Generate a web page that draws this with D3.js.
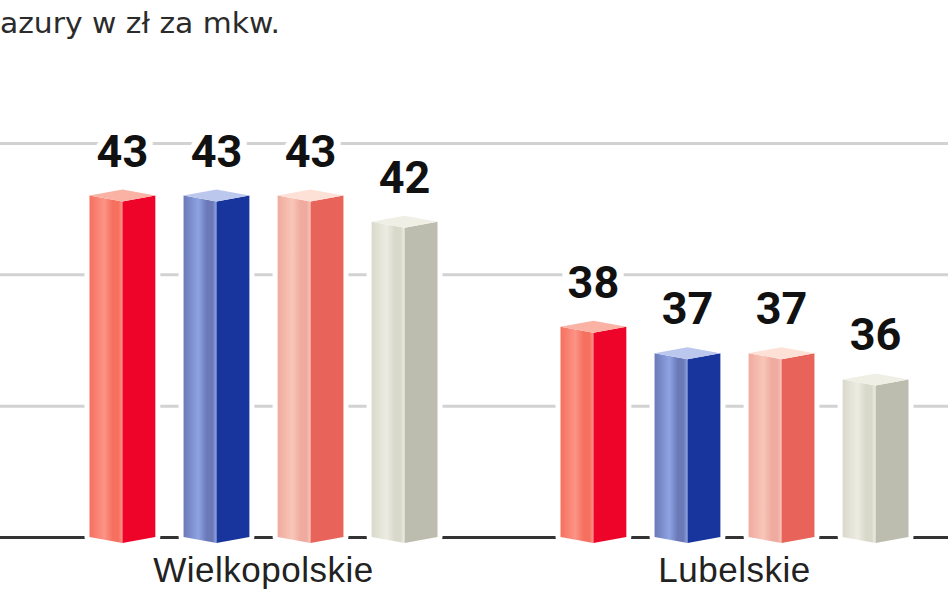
<!DOCTYPE html>
<html>
<head>
<meta charset="utf-8">
<script src="https://cdn.jsdelivr.net/npm/d3@7"></script>
<style>
  body { margin: 0; background: #fff; }
  svg { display: block; }
</style>
</head>
<body>
<div id="chart"></div>
<script>
// dane
var categories = ["Wielkopolskie", "Lubelskie"];
var seriesKeys = ["s1", "s2", "s3", "s4"];
var wielkopolskie = [43, 43, 43, 42];
var lubelskie = [38, 37, 37, 36];
var yTicks = [30, 35, 40, 45];
var title = "azury w zł za mkw.";

// kolory: lewa sciana, odblask, prawa sciana, wieczko
var colors = [
    { left: "#f6705f", hi: "#fb9486", right: "#ee0428", cap: "#f9b2a4" },
    { left: "#6b79b8", hi: "#8ea3e2", right: "#17359c", cap: "#bcc7ee" },
    { left: "#efab9f", hi: "#f8c6b8", right: "#e8645b", cap: "#fde0d6" },
    { left: "#d9d9cb", hi: "#ececE2", right: "#bdbdaf", cap: "#efefe6" }
];

var rows = categories.map(function(c, i) {
    var vals = i === 0 ? wielkopolskie : lubelskie;
    return { cat: c, vals: vals };
});

var W = 948, H = 593;
var svg = d3.select("#chart").append("svg")
    .attr("width", W)
    .attr("height", H);

var y = d3.scaleLinear().domain([30, 45]).range([537, 143]);

var x0 = d3.scaleBand()
    .domain(categories)
    .range([28, 970])
    .paddingInner(0);

var x1 = d3.scaleBand()
    .domain(seriesKeys)
    .range([61.5, 409.5])
    .paddingInner(0.3);

var defs = svg.append("defs");
colors.forEach(function(c, i) {
    var g = defs.append("linearGradient")
        .attr("id", "lg" + i)
        .attr("x1", "0").attr("x2", "1").attr("y1", "0").attr("y2", "0");
    g.append("stop").attr("offset", "0").attr("stop-color", c.left);
    g.append("stop").attr("offset", "0.45").attr("stop-color", c.hi);
    g.append("stop").attr("offset", "0.7").attr("stop-color", c.left);
    g.append("stop").attr("offset", "0.88").attr("stop-color", c.left);
    g.append("stop").attr("offset", "1").attr("stop-color", c.hi);
});

// tytul
svg.append("text")
    .attr("x", 0)
    .attr("y", 33)
    .attr("textLength", 280)
    .attr("lengthAdjust", "spacingAndGlyphs")
    .style("font-family", "'DejaVu Sans', sans-serif")
    .style("font-size", "29px")
    .style("fill", "#2b2b2b")
    .text(title);

// linie siatki
var grid = svg.append("g")
    .attr("transform", "translate(" + W + ",0)")
    .call(d3.axisLeft(y).tickValues(yTicks).tickSize(W).tickFormat(""));
grid.select(".domain").remove();
grid.selectAll(".tick line")
    .attr("stroke", function(d) { return d === 30 ? "#333" : "#d2d2d2"; })
    .attr("stroke-width", 3);

var depth = 6;

var groups = svg.append("g").selectAll("g")
    .data(rows)
    .join("g")
    .attr("transform", function(d) { return "translate(" + x0(d.cat) + ",0)"; });

var bars = groups.selectAll("g")
    .data(function(d) {
        return d.vals.map(function(v, i) { return { key: seriesKeys[i], v: v, i: i }; });
    })
    .join("g");

function pts(a) {
    return a.map(function(p) { return p.join(","); }).join(" ");
}

bars.each(function(d) {
    var g = d3.select(this);
    var xl = x1(d.key), xr = xl + x1.bandwidth(), xm = (xl + xr) / 2;
    var yt = y(d.v), yb = y(30);
    var c = colors[d.i];
    // bialy obrys
    g.append("polygon")
        .attr("points", pts([[xl, yt], [xm, yt - depth], [xr, yt], [xr, yb], [xm, yb + depth], [xl, yb]]))
        .attr("fill", "#fff")
        .attr("stroke", "#fff")
        .attr("stroke-width", 10)
        .attr("stroke-linejoin", "round");
    g.append("polygon")
        .attr("points", pts([[xl, yt], [xm, yt + depth], [xm, yb + depth], [xl, yb]]))
        .attr("fill", "url(#lg" + d.i + ")");
    g.append("polygon")
        .attr("points", pts([[xm, yt + depth], [xr, yt], [xr, yb], [xm, yb + depth]]))
        .attr("fill", c.right);
    g.append("polygon")
        .attr("points", pts([[xl, yt], [xm, yt - depth], [xr, yt], [xm, yt + depth]]))
        .attr("fill", c.cap);
    g.append("text")
        .attr("x", xm)
        .attr("y", yt - 29)
        .attr("text-anchor", "middle")
        .style("font-family", "Roboto, 'DejaVu Sans', sans-serif")
        .style("font-weight", 700)
        .style("font-size", "45px")
        .style("fill", "#111")
        .style("stroke", "#fff")
        .style("stroke-width", 14)
        .style("stroke-linejoin", "round")
        .style("paint-order", "stroke")
        .text(d.v);
});

// podpisy kategorii
groups.append("text")
    .attr("x", x0.bandwidth() / 2)
    .attr("y", 582)
    .attr("text-anchor", "middle")
    .style("font-family", "'Liberation Sans', Arial, sans-serif")
    .style("font-size", "35px")
    .style("letter-spacing", "0.5px")
    .style("fill", "#222")
    .text(function(d) { return d.cat; });
</script>
</body>
</html>
